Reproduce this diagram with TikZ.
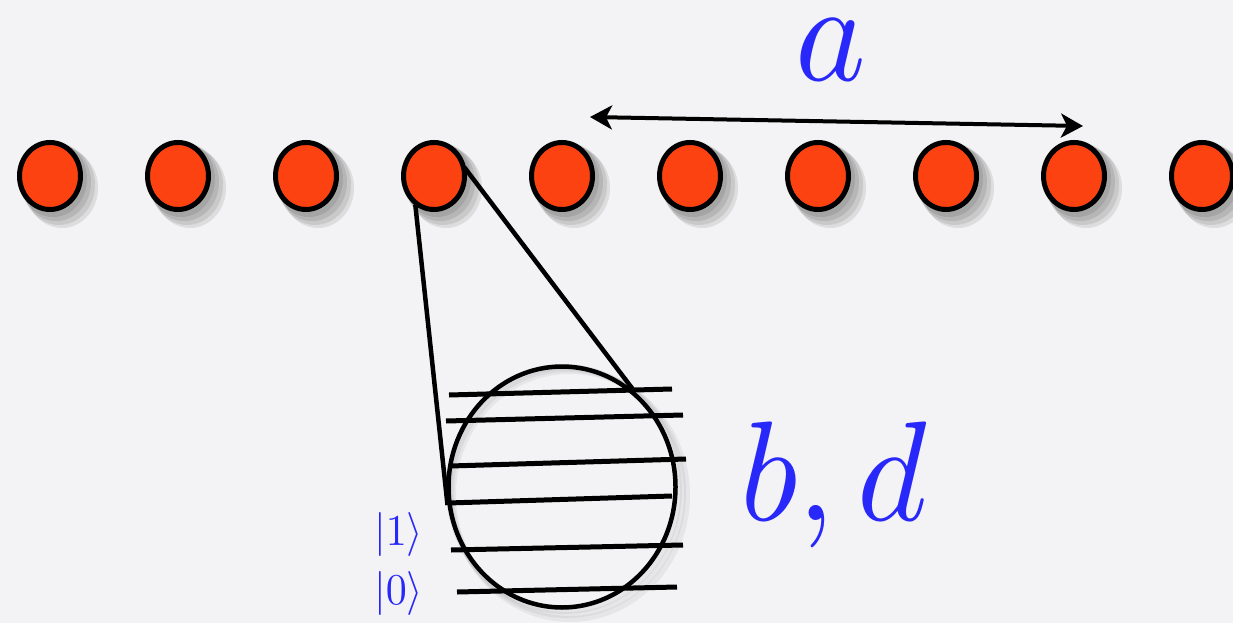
\documentclass[tikz,border=0pt]{standalone}
\usepackage{graphicx}
\usetikzlibrary{shapes.geometric,arrows.meta}
\definecolor{bg}{RGB}{243,243,245}
\definecolor{dotred}{RGB}{253,66,18}
\definecolor{lblue}{RGB}{40,40,250}
\tikzset{
  dot/.style={ellipse, draw=black, line width=5pt, fill=dotred, minimum width=61pt, minimum height=67pt, inner sep=0pt},
  bigc/.style={ellipse, draw=black, line width=4.5pt, minimum width=227pt, minimum height=241pt, inner sep=0pt},
  zoomline/.style={line width=4.5pt, black},
  level/.style={line width=5pt, black},
  dimarrow/.style={line width=4pt, black, {Stealth[length=22pt,width=24pt,inset=6pt]}-{Stealth[length=22pt,width=24pt,inset=6pt]}},
  biglabel/.style={text=lblue, inner sep=0pt},
  ketlabel/.style={text=lblue, inner sep=0pt}
}
\newcommand{\bigtxt}[1]{\scalebox{13.4}[14.2]{#1}}
\newcommand{\kettxt}[1]{\scalebox{4.2}[4.4]{#1}}
\begin{document}
\begin{tikzpicture}[x=1pt,y=-1pt]
\fill[bg] (0,0) rectangle (1233,623);
\useasboundingbox (0,0) rectangle (1233,623);
% shadows of dots
\foreach \i in {1,...,10} {
  \pgfmathsetmacro\cx{50+128*(\i-1)}
  \foreach \o/\r in {3/36,6/37,9/38,12/38} {
    \fill[black,opacity=0.09] (\cx+\o,176+\o) ellipse [x radius=\r-2, y radius=\r+2];
  }
}
% shadow of big circle
\foreach \o/\r in {2/0,5/3,8/6} {
  \draw[black,opacity=0.05,line width=6pt] (562+\o,487+\o) ellipse [x radius=115+\r/3, y radius=122+\r/3];
}
% dots
\foreach \i in {1,...,10} {
  \node[dot] (d\i) at ({50+128*(\i-1)},176) {};
}
% big circle
\node[bigc] (big) at (562,487) {};
% zoom lines
\draw[zoomline, shorten <=-1pt] (d4.238) -- (big.189);
\draw[zoomline, shorten <=-4pt] (d4.10) -- (big.53);
% levels
\draw[level] (449,395) -- (672,389);
\draw[level] (446,421) -- (683,415);
\draw[level] (450,466) -- (686,459);
\draw[level] (448,503) -- (672,496);
\draw[level] (451,550) -- (683,545);
\draw[level] (457,592) -- (677,587);
% arrow a
\coordinate (aL) at (590,117);
\coordinate (aR) at (1083,126);
\draw[dimarrow] (aL) -- (aR);
% labels
\node[biglabel, anchor=base] (la) at (831,81) {\bigtxt{$a$}};
\node[biglabel, anchor=base west] (lbd) at (740,520) {\bigtxt{$b,d$}};
\node[ketlabel, anchor=base west] (k1) at (374,545) {\kettxt{$|1\rangle$}};
\node[ketlabel, anchor=base west] (k0) at (374,604) {\kettxt{$|0\rangle$}};
\end{tikzpicture}
\end{document}
